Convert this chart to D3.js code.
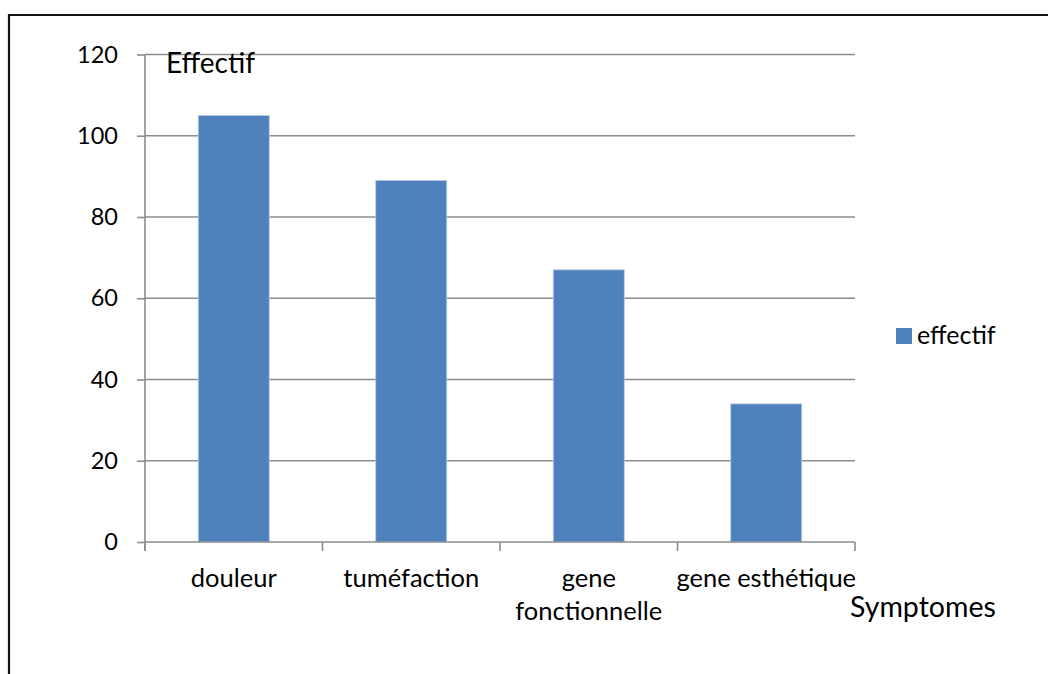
<!DOCTYPE html>
<html>
<head>
<meta charset="utf-8">
<script src="https://cdn.jsdelivr.net/npm/d3@7"></script>
<style>
  html, body { margin: 0; padding: 0; background: #fff; }
  svg { display: block; }
  text { font-family: Lato, "Open Sans", sans-serif; fill: #000; }
</style>
</head>
<body>
<svg id="chart" width="1048" height="674"></svg>
<script>
// Symptom counts
const categories = ["douleur", "tuméfaction", "gene fonctionnelle", "gene esthétique"];
const categoryLines = [["douleur"], ["tuméfaction"], ["gene", "fonctionnelle"], ["gene esthétique"]];
const effectif = [105, 89, 67, 34];
const yTicks = [0, 20, 40, 60, 80, 100, 120];
const seriesName = "effectif";
const yTitle = "Effectif";
const xTitle = "Symptomes";

const svg = d3.select("#chart");
const W = 1048, H = 674;
const plot = { left: 145, right: 855, top: 54.5, bottom: 542 };
const barColor = "#4F81BD";
const gridColor = "#8C8C8C";

// Outer frame (top and left edges)
svg.append("path")
  .attr("d", `M9,${H} L9,15 L${W},15`)
  .attr("fill", "none")
  .attr("stroke", "#111")
  .attr("stroke-width", 2.2);

const x = d3.scaleBand().domain(categories).range([plot.left, plot.right]).paddingInner(0.6).paddingOuter(0.3);
const xEdges = d3.scaleBand().domain(categories).range([plot.left, plot.right]);
const y = d3.scaleLinear().domain([0, 120]).range([plot.bottom, plot.top]);

// Horizontal gridlines
svg.append("g")
  .selectAll("line")
  .data(yTicks.filter(d => d > 0))
  .join("line")
  .attr("x1", plot.left).attr("x2", plot.right)
  .attr("y1", d => y(d)).attr("y2", d => y(d))
  .attr("stroke", gridColor).attr("stroke-width", 1.6);

// Y axis
const yAxis = svg.append("g")
  .attr("transform", `translate(${plot.left},0)`)
  .call(d3.axisLeft(y).tickValues(yTicks).tickSize(8).tickPadding(19).tickSizeOuter(0));
yAxis.select(".domain").attr("stroke", gridColor).attr("stroke-width", 1.6)
  .attr("d", `M0,${plot.top}V${plot.bottom + 9}`);
yAxis.selectAll(".tick line").attr("stroke", gridColor).attr("stroke-width", 1.6);
yAxis.selectAll(".tick text").attr("font-size", 23.5).attr("font-family", "Lato").attr("fill", "#000");

// Bars
svg.append("g")
  .selectAll("rect")
  .data(categories)
  .join("rect")
  .attr("x", d => x(d))
  .attr("width", x.bandwidth())
  .attr("y", (d, i) => y(effectif[i]))
  .attr("height", (d, i) => y(0) - y(effectif[i]))
  .attr("fill", barColor)
  .attr("stroke", "#B9CDE5").attr("stroke-width", 0.8);

// X axis line and category ticks
svg.append("line")
  .attr("x1", plot.left).attr("x2", plot.right)
  .attr("y1", plot.bottom).attr("y2", plot.bottom)
  .attr("stroke", gridColor).attr("stroke-width", 1.6);
const edges = categories.map(c => xEdges(c)).concat([plot.right]);
svg.append("g")
  .selectAll("line")
  .data(edges)
  .join("line")
  .attr("x1", d => d).attr("x2", d => d)
  .attr("y1", plot.bottom).attr("y2", plot.bottom + 9)
  .attr("stroke", gridColor).attr("stroke-width", 1.6);

// Category labels
const lab = svg.append("g");
categories.forEach((c, i) => {
  const t = lab.append("text")
    .attr("x", xEdges(c) + xEdges.bandwidth() / 2)
    .attr("y", 587)
    .attr("text-anchor", "middle")
    .attr("font-size", 25.5);
  categoryLines[i].forEach((line, j) => {
    t.append("tspan")
      .attr("x", xEdges(c) + xEdges.bandwidth() / 2)
      .attr("dy", j === 0 ? 0 : 33)
      .text(line);
  });
});

// Axis titles
svg.append("text").attr("x", 166).attr("y", 73).attr("font-size", 28).text(yTitle);
svg.append("text").attr("x", 850).attr("y", 617).attr("font-size", 28.5).text(xTitle);

// Legend
const legend = svg.append("g").attr("transform", "translate(896,328)");
legend.append("rect").attr("width", 16).attr("height", 16).attr("fill", barColor);
legend.append("text").attr("x", 21).attr("y", 16).attr("font-size", 25).text(seriesName);
</script>
</body>
</html>
